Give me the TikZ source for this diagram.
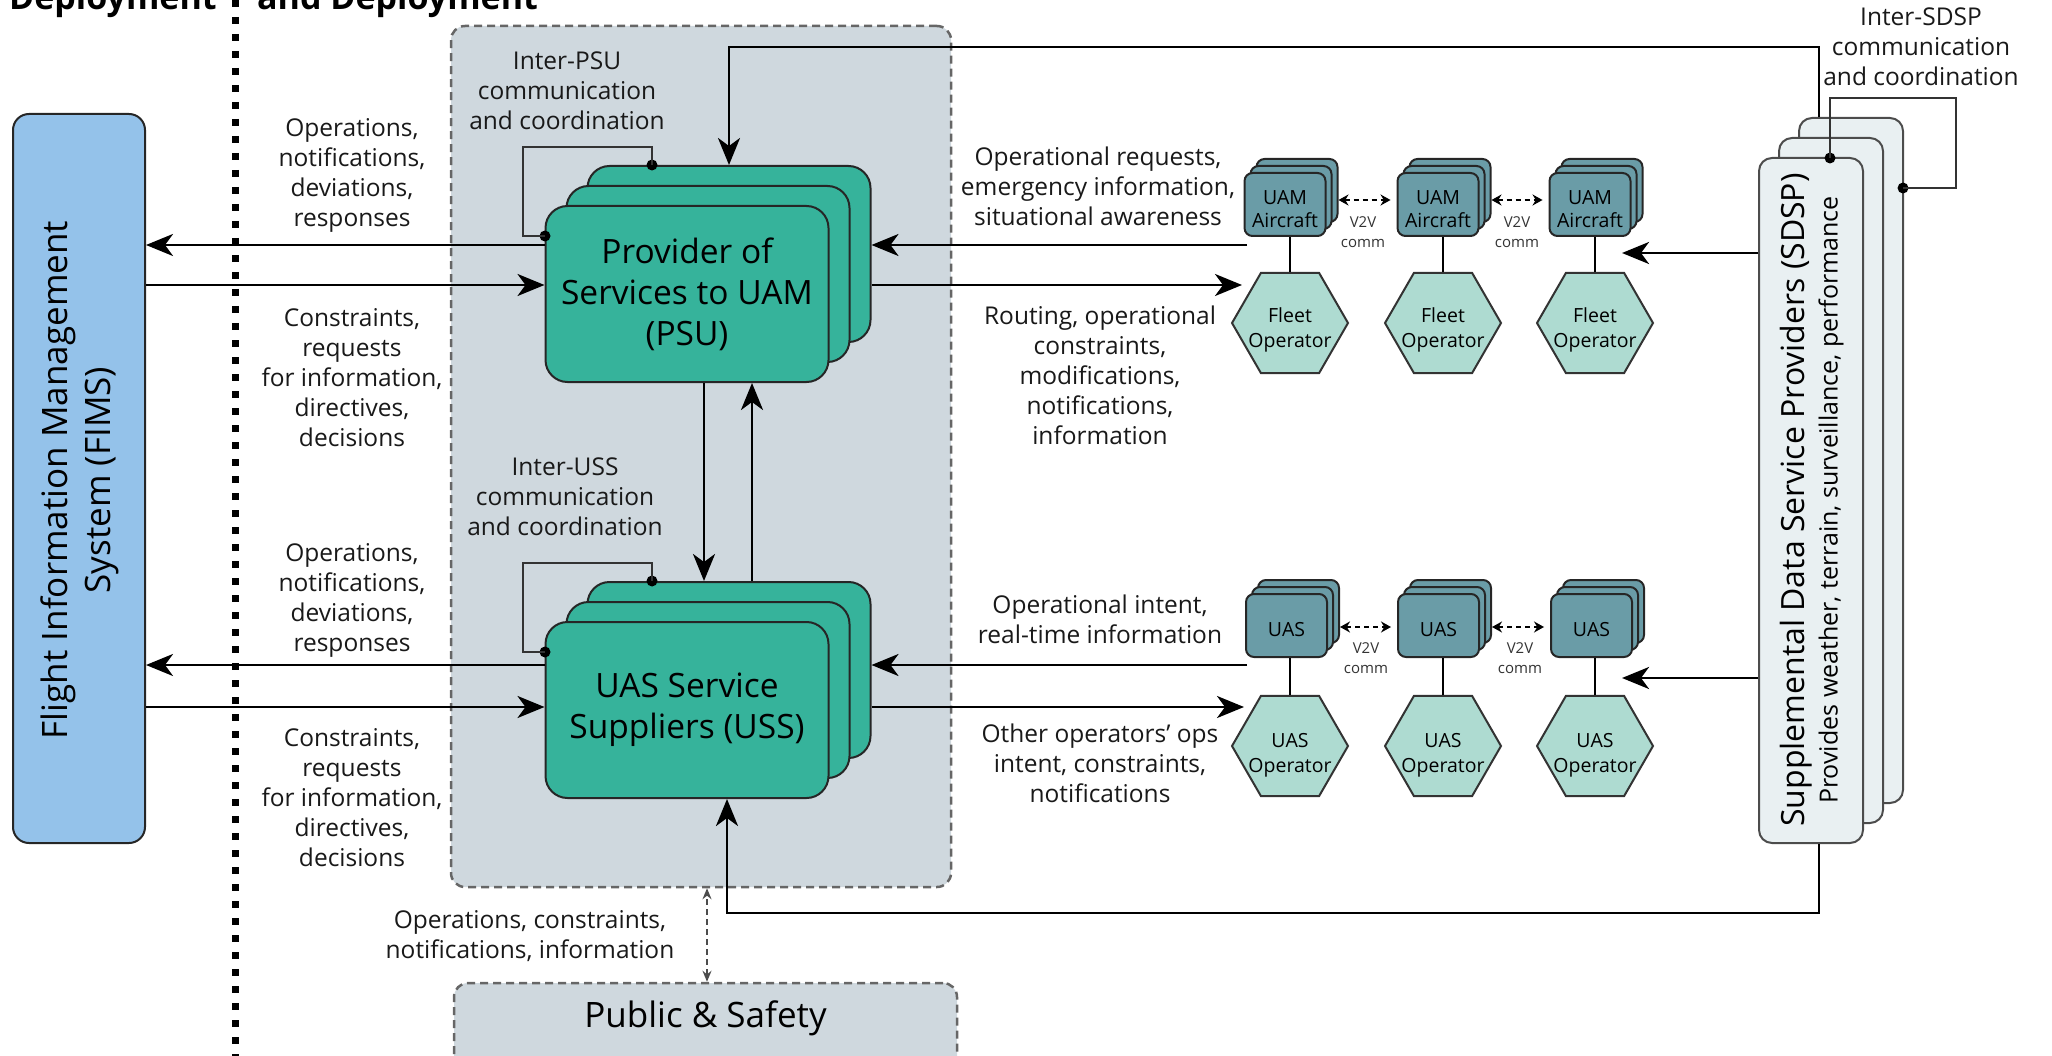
\documentclass[tikz,border=0pt]{standalone}
\usepackage{fontspec}
\setmainfont{Open Sans}
\usetikzlibrary{arrows.meta,shapes.geometric}
\definecolor{fimsblue}{HTML}{94C2EA}
\definecolor{psugreen}{HTML}{36B39B}
\definecolor{contgrey}{HTML}{CFD8DE}
\definecolor{acteal}{HTML}{6A9CA7}
\definecolor{hexteal}{HTML}{AEDBD1}
\definecolor{sdspfill}{HTML}{E9F0F2}
\definecolor{edge}{HTML}{262626}
\begin{document}
\begin{tikzpicture}[x=1pt,y=-1pt,
  contbox/.style={draw=black!60, dash pattern=on 8pt off 5pt, line width=2.5pt, fill=contgrey, rounded corners=14pt, inner sep=0},
  fimsbox/.style={draw=edge, line width=2pt, fill=fimsblue, rounded corners=16pt, minimum width=132pt, minimum height=729pt, inner sep=0},
  svc/.style={draw=edge, line width=2pt, fill=psugreen, rounded corners=22pt, minimum width=283pt, minimum height=176pt, inner sep=0, align=center, font=\fontsize{33.5}{41}\selectfont},
  acb/.style={draw=edge, line width=2pt, fill=acteal, rounded corners=8pt, minimum width=81pt, minimum height=63pt, inner sep=0},
  actxt/.style={inner sep=0, align=center, font=\fontsize{19.5}{23}\selectfont},
  hexa/.style={regular polygon, regular polygon sides=6, minimum size=116pt, draw=black!80, line width=2pt, fill=hexteal, inner sep=0},
  hextxt/.style={inner sep=0, align=center, font=\fontsize{19.5}{25}\selectfont},
  sdspb/.style={draw=black!70, line width=2pt, fill=sdspfill, rounded corners=13pt, minimum width=104pt, minimum height=685pt, inner sep=0},
  arr/.style={line width=2.9pt, -{Stealth[length=27pt,width=22pt,inset=8pt]}},
  conn/.style={line width=2.8pt},
  thinln/.style={line width=1.6pt, draw=black!80},
  dot/.style={circle, fill=black, inner sep=0, minimum size=11pt},
  lbl/.style={font=\fontsize{24.5}{30}\selectfont, align=center, inner sep=0, text=black!90},
  v2v/.style={line width=2.6pt, dash pattern=on 5pt off 4pt, {Stealth[length=10pt,width=11pt]}-{Stealth[length=10pt,width=11pt]}},
  v2vlbl/.style={font=\fontsize{15}{20}\selectfont, align=center, inner sep=0, text=black!80},
  dasharr/.style={line width=1.6pt, draw=black!70, dash pattern=on 6pt off 4pt, {Stealth[length=11pt,width=9pt]}-{Stealth[length=11pt,width=9pt]}},
  big/.style={font=\fontsize{35}{43}\selectfont, align=center, inner sep=0}
]
\useasboundingbox (0,0) rectangle (2052,1056);
\clip (0,0) rectangle (2052,1056);

% header
\node[anchor=base west, inner sep=0, font=\fontsize{34}{40}\selectfont\bfseries] (hdrL) at (9,10) {Deployment};
\node[anchor=base west, inner sep=0, font=\fontsize{34}{40}\selectfont\bfseries] (hdrR) at (257,10) {and Deployment};

% container
\node[contbox, minimum width=500pt, minimum height=861pt] (cont) at (701,456.5) {};
\node[contbox, minimum width=503pt, minimum height=100pt] (pubs) at (705.5,1033) {};
\node[big] (pubsT) at (705.5,1018) {Public \& Safety};

% FIMS
\node[fimsbox] (fims) at (79,478.5) {};
\node[big, rotate=90] (fimsT) at (80,480) {Flight Information Management\\System (FIMS)};

% divider
\coordinate (divT) at (235,0);
\coordinate (divB) at (235,1060);
\draw[line width=7pt, dash pattern=on 7pt off 10pt] (divT) -- (divB);

% PSU stack
\node[svc] (psuC) at (729,254) {};
\node[svc] (psuB) at (708,274) {};
\node[svc] (psuA) at (687,294) {Provider of\\Services to UAM\\(PSU)};
% USS stack
\node[svc] (ussC) at (729,670) {};
\node[svc] (ussB) at (708,690) {};
\node[svc] (ussA) at (687,710) {UAS Service\\Suppliers (USS)};

% self loops
\node[dot] (pd1) at (652,165) {};
\node[dot] (pd2) at (545,236) {};
\draw[thinln] (pd1.center) |- (523,147) |- (pd2.center);
\node[dot] (ud1) at (652,581) {};
\node[dot] (ud2) at (545,652) {};
\draw[thinln] (ud1.center) |- (523,563) |- (ud2.center);

\node[lbl] (lInterPSU) at (567,91) {Inter-PSU\\communication\\and coordination};
\node[lbl] (lInterUSS) at (565,497) {Inter-USS\\communication\\and coordination};

% PSU <-> USS
\draw[arr] (psuA.south -| 704,0) -- (ussC.north -| 704,0);
\draw[arr] (ussC.north -| 752,0) -- (psuA.south -| 752,0);

% FIMS arrows
\draw[arr] (psuA.west |- 0,245) -- (fims.east |- 0,245);
\draw[arr] (fims.east |- 0,285) -- (psuA.west |- 0,285);
\draw[arr] (ussA.west |- 0,665) -- (fims.east |- 0,665);
\draw[arr] (fims.east |- 0,707) -- (ussA.west |- 0,707);

\node[lbl] (lF1) at (352,175) {Operations,\\notifications,\\deviations,\\responses};
\node[lbl] (lF2) at (352,378) {Constraints,\\requests\\for information,\\directives,\\decisions};
\node[lbl] (lF3) at (352,600) {Operations,\\notifications,\\deviations,\\responses};
\node[lbl] (lF4) at (352,798) {Constraints,\\requests\\for information,\\directives,\\decisions};

% UAM aircraft stacks and fleet operators
\foreach \i/\x in {1/1285,2/1438,3/1590}{
  \node[acb] (uam\i c) at (\x+12,190.5) {};
  \node[acb] (uam\i b) at (\x+6,197.5) {};
  \node[acb] (uam\i a) at (\x,204.5) {};
  \node[actxt] (uam\i t) at (\x,209) {UAM\\Aircraft};
}
\foreach \i/\x in {1/1290,2/1443,3/1595}{
  \node[hexa] (fleet\i) at (\x,323) {};
  \node[hextxt] (fleet\i t) at (\x,330) {Fleet\\Operator};
  \draw[conn] (fleet\i.north) -- (fleet\i.north |- uam\i a.south);
}
\foreach \i/\j in {1/2,2/3}{
  \draw[v2v] (uam\i c.east |- 0,200) -- ([xshift=-6pt]uam\j a.west |- 0,200);
}
\node[v2vlbl] (v2vU1) at (1363,232) {V2V\\comm};
\node[v2vlbl] (v2vU2) at (1517,232) {V2V\\comm};

% UAS stacks and operators
\foreach \i/\x in {1/1286.5,2/1438.5,3/1591.5}{
  \node[acb] (uas\i c) at (\x+12,611.5) {};
  \node[acb] (uas\i b) at (\x+6,618.5) {};
  \node[acb] (uas\i a) at (\x,625.5) {};
  \node[actxt] (uas\i t) at (\x,629.5) {UAS};
}
\foreach \i/\x in {1/1290,2/1443,3/1595}{
  \node[hexa] (uop\i) at (\x,746) {};
  \node[hextxt] (uop\i t) at (\x,755) {UAS\\Operator};
  \draw[conn] (uop\i.north) -- (uop\i.north |- uas\i a.south);
}
\foreach \i/\j in {1/2,2/3}{
  \draw[v2v] (uas\i c.east |- 0,627) -- ([xshift=-6pt]uas\j a.west |- 0,627);
}
\node[v2vlbl] (v2vS1) at (1366,658) {V2V\\comm};
\node[v2vlbl] (v2vS2) at (1520,658) {V2V\\comm};

% PSU/USS <-> right side
\coordinate (aOut) at (1247,245);
\coordinate (fIn) at (1242,285);
\coordinate (sOut) at (1247,665);
\coordinate (oIn) at (1244,707);
\draw[arr] (aOut) -- (psuC.east |- aOut);
\draw[arr] (psuC.east |- fIn) -- (fIn);
\draw[arr] (sOut) -- (ussC.east |- sOut);
\draw[arr] (ussC.east |- oIn) -- (oIn);

\node[lbl] (lR1) at (1098,186) {Operational requests,\\emergency information,\\situational awareness};
\node[lbl] (lR2) at (1100,375) {Routing, operational\\constraints,\\modifications,\\notifications,\\information};
\node[lbl] (lR3) at (1100,619) {Operational intent,\\real-time information};
\node[lbl] (lR4) at (1100,763) {Other operators’ ops\\intent, constraints,\\notifications};

% SDSP
\node[sdspb] (sdspC) at (1851,460.5) {};
\node[sdspb] (sdspB) at (1831,480.5) {};
\node[sdspb] (sdspA) at (1811,500.5) {};
\node[rotate=90, inner sep=0, font=\fontsize{32}{36}\selectfont] (sdspT1) at (1796,500) {Supplemental Data Service Providers (SDSP)};
\node[rotate=90, inner sep=0, font=\fontsize{25}{30}\selectfont] (sdspT2) at (1831,500) {Provides weather, terrain, surveillance, performance};

\node[dot] (sd1) at (1830,158) {};
\node[dot] (sd2) at (1903,188) {};
\draw[thinln] (sd1.center) |- (1956,98) |- (sd2.center);
\node[lbl] (lInterSDSP) at (1921,47) {Inter-SDSP\\communication\\and coordination};

\coordinate (s1) at (1622,253);
\coordinate (s2) at (1622,678);
\draw[arr] (sdspA.west |- s1) -- (s1);
\draw[arr] (sdspA.west |- s2) -- (s2);

% big loops
\coordinate (tl) at (1819,47);
\draw[arr] (tl |- sdspC.north) -- (tl) -| (psuC.north);
\coordinate (br) at (1819,913);
\coordinate (bl) at (727,913);
\draw[arr] (br |- sdspA.south) -- (br) -- (bl) -- (bl |- ussA.south);

% public & safety
\draw[dasharr] (pubs.north -| 707,0) -- (cont.south -| 707,0);
\node[lbl] (lPS) at (530,936) {Operations, constraints,\\notifications, information};
\end{tikzpicture}
\end{document}
